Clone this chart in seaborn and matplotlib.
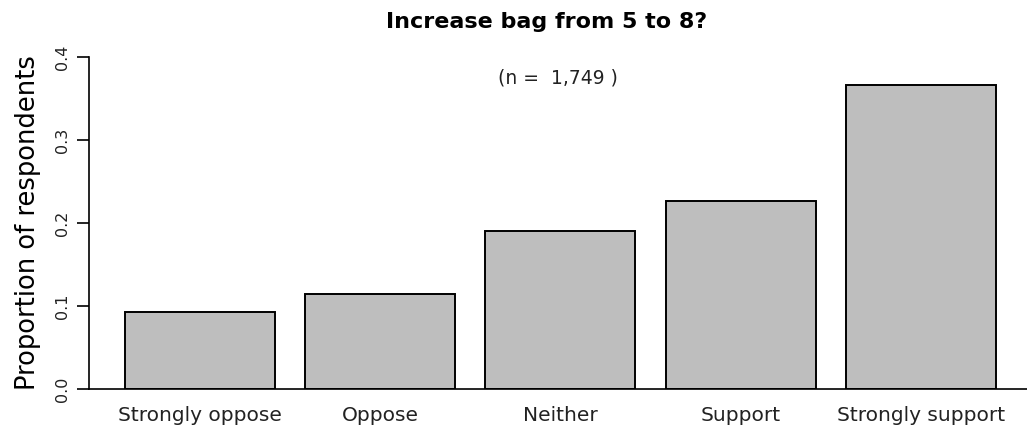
import matplotlib
matplotlib.use("Agg")
import matplotlib.pyplot as plt
import seaborn as sns
import pandas as pd

categories = ["Strongly oppose", "Oppose", "Neither", "Support", "Strongly support"]
proportions = [0.093, 0.115, 0.190, 0.227, 0.366]
yticks = [0.0, 0.1, 0.2, 0.3, 0.4]
ytick_labels = ["0.0", "0.1", "0.2", "0.3", "0.4"]
title = "Increase bag from 5 to 8?"
n_label = "(n =  1,749 )"
ylabel = "Proportion of respondents"

sns.set_theme(style="white")
plt.rcParams["font.family"] = ["DejaVu Sans"]

W, H = 1027, 434
fig = plt.figure(figsize=(W / 100, H / 100), dpi=100)
ax = fig.add_axes([89 / W, (H - 389) / H, 1 - 89 / W, (389 - 57) / H])

df = pd.DataFrame({"cat": categories, "prop": proportions})
sns.barplot(data=df, x="cat", y="prop", color="#BEBEBE", saturation=1,
            edgecolor="black", linewidth=1.4, width=1 / 1.2, ax=ax)

ax.set_xlim((89 - 200) / 180.2, (1027 - 200) / 180.2)
ax.set_ylim(0, 0.4)
ax.set_yticks(yticks)
ax.set_yticklabels(ytick_labels, rotation=90, va="center", fontsize=11.5, color="#222222")
ax.tick_params(axis="y", direction="out", length=9, width=1.2, color="black", pad=5, left=True)
ax.tick_params(axis="x", length=0, pad=12, labelsize=14.5, labelcolor="#222222")
ax.set_xlabel("")
ax.set_ylabel(ylabel, fontsize=18.5, labelpad=10, color="black")

for s in ["top", "right"]:
    ax.spines[s].set_visible(False)
ax.spines["left"].set_bounds(0, 0.4)
ax.spines["left"].set_color("black")
ax.spines["left"].set_linewidth(1.2)
ax.spines["bottom"].set_color("black")
ax.spines["bottom"].set_linewidth(1.2)

fig.text(547 / W, 1 - 28 / H, title, ha="center", va="baseline",
         fontsize=16, fontweight="bold", color="black")
fig.text(558 / W, 1 - 78 / H, n_label, ha="center", va="center",
         fontsize=13.5, color="#222222")

fig.savefig("out.png", dpi=100)
